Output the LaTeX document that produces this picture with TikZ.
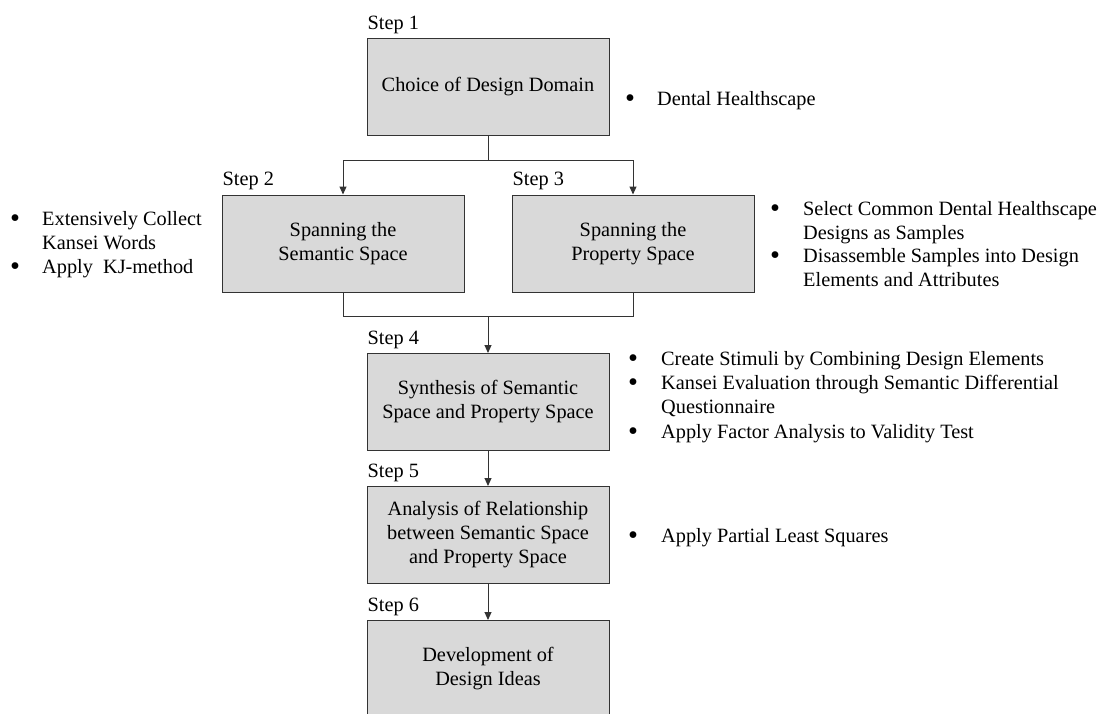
\documentclass[tikz,border=0pt]{standalone}
\usepackage{fontspec}
\setmainfont{Liberation Serif}
\usetikzlibrary{arrows.meta}
\definecolor{boxgray}{HTML}{D9D9D9}
\definecolor{linegray}{HTML}{333333}
\newcommand\mainfs{\fontsize{20.3}{24}\selectfont}
% enlarged list bullet, lowered so that it stays centred on the text line
\newcommand\bigbullet{\raisebox{-2.3pt}{\scalebox{1.4}{\textbullet}}}
\begin{document}
\begin{tikzpicture}[x=1pt,y=-1pt,
  stepbox/.style={draw=linegray, fill=boxgray, line width=1pt,
    minimum width=242pt, minimum height=97pt, align=center,
    inner sep=0pt, font=\mainfs},
  steplabel/.style={anchor=base west, inner sep=0pt, font=\mainfs},
  bul/.style={anchor=base, inner sep=0pt, font=\mainfs},
  item/.style={anchor=base west, inner sep=0pt, align=left, font=\mainfs},
  conn/.style={draw=linegray, line width=1pt},
  arr/.style={conn, -{Triangle[length=8pt,width=7pt]}}]
\path[use as bounding box] (0,0) rectangle (1104,713);
\clip (0,0) rectangle (1104,713);

% process steps
\node[stepbox] (b1) at (488,87)    {Choice of Design Domain};
\node[stepbox] (b2) at (343,243.5) {Spanning the\\Semantic Space};
\node[stepbox] (b3) at (633,243.5) {Spanning the\\Property Space};
\node[stepbox] (b4) at (488,402)   {Synthesis of Semantic\\Space and Property Space};
\node[stepbox] (b5) at (488,535)   {Analysis of Relationship\\between Semantic Space\\and Property Space};
\node[stepbox] (b6) at (488,669)   {Development of\\Design Ideas};

% step labels above each box
\node[steplabel] (s1) at ([shift={(1,-9)}]b1.north west) {Step 1};
\node[steplabel] (s2) at ([shift={(1,-9)}]b2.north west) {Step 2};
\node[steplabel] (s3) at ([shift={(1,-9)}]b3.north west) {Step 3};
\node[steplabel] (s4) at ([shift={(1,-9)}]b4.north west) {Step 4};
\node[steplabel] (s5) at ([shift={(1,-9)}]b5.north west) {Step 5};
\node[steplabel] (s6) at ([shift={(1,-9)}]b6.north west) {Step 6};

% connectors
\coordinate (j1) at (488,160);
\coordinate (j2) at (488,316);
\draw[conn] (b1.south) -- (j1);
\draw[arr] (j1) -| (b2.north);
\draw[arr] (j1) -| (b3.north);
\draw[conn] (b2.south) |- (j2);
\draw[conn] (b3.south) |- (j2);
\draw[arr] (j2) -- (b4.north);
\draw[arr] (b4.south) -- (b5.north);
\draw[arr] (b5.south) -- (b6.north);

% notes; a multi-line note is placed by the baseline of its last line
% notes for step 1
\node[bul]  (d1) at (630,105) {\bigbullet};
\node[item] (t1) at (657,105) {Dental Healthscape};

% notes for step 2
\node[bul]  (d2a) at (15,225) {\bigbullet};
\node[item] (t2a) at (42,249) {Extensively Collect\\Kansei Words};
\node[bul]  (d2b) at (15,273) {\bigbullet};
\node[item] (t2b) at (42,273) {Apply~ KJ-method};

% notes for step 3
\node[bul]  (d3a) at (775,215) {\bigbullet};
\node[item] (t3a) at (803,239) {Select Common Dental Healthscape\\Designs as Samples};
\node[bul]  (d3b) at (775,262) {\bigbullet};
\node[item] (t3b) at (803,286) {Disassemble Samples into Design\\Elements and Attributes};

% notes for step 4
\node[bul]  (d4a) at (633,365) {\bigbullet};
\node[item] (t4a) at (661,365) {Create Stimuli by Combining Design Elements};
\node[bul]  (d4b) at (633,389) {\bigbullet};
\node[item] (t4b) at (661,413) {Kansei Evaluation through Semantic Differential\\Questionnaire};
\node[bul]  (d4c) at (633,438) {\bigbullet};
\node[item] (t4c) at (661,438) {Apply Factor Analysis to Validity Test};

% notes for step 5
\node[bul]  (d5) at (633,542) {\bigbullet};
\node[item] (t5) at (661,542) {Apply Partial Least Squares};
\end{tikzpicture}
\end{document}
